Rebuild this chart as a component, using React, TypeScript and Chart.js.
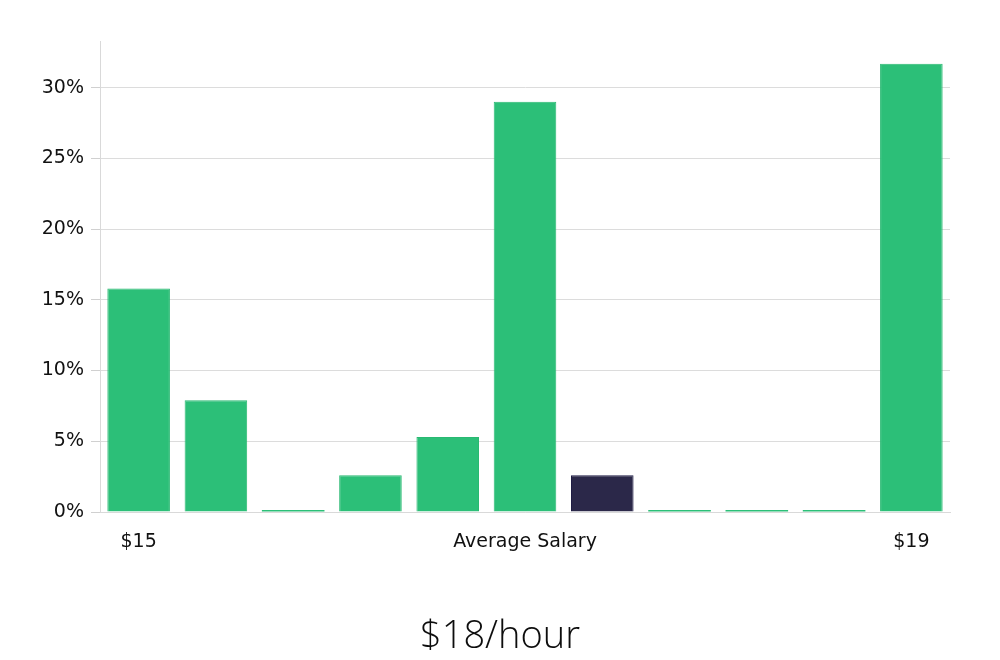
import React, { useEffect, useRef } from "react";
import { Chart, registerables } from "chart.js";

Chart.register(...registerables);

const categories = ["$15", "", "", "", "", "Average Salary", "", "", "", "", "$19"];
const shares = [15.8, 7.9, 0, 2.6, 5.3, 29.0, 2.6, 0, 0, 0, 31.7];
const highlightIndex = 6;
const yTicks = [0, 5, 10, 15, 20, 25, 30];
const titleText = "$18/hour";

const GREEN = "#2cbf78";
const GREEN_BORDER = "#29b972";
const DARK = "#2b2849";
const DARK_BORDER = "#1f1c45";

export default function App() {
  const ref = useRef<HTMLCanvasElement | null>(null);

  useEffect(() => {
    document.body.style.margin = "0";
    const ctx = ref.current!.getContext("2d")!;
    const chart = new Chart(ctx, {
      type: "bar",
      data: {
        labels: categories,
        datasets: [
          {
            data: shares,
            backgroundColor: shares.map((_, i) => (i === highlightIndex ? DARK : GREEN)),
            borderColor: shares.map((_, i) => (i === highlightIndex ? DARK_BORDER : GREEN_BORDER)),
            borderWidth: shares.map((v) => (v === 0 ? 0 : 1)),
            minBarLength: 2,
            barPercentage: 0.9,
            categoryPercentage: 0.9,
          },
        ],
      },
      options: {
        animation: false,
        responsive: false,
        maintainAspectRatio: false,
        layout: { padding: { top: 41, right: 50, left: 0, bottom: 0 } },
        plugins: {
          legend: { display: false },
          tooltip: { enabled: false },
          title: { display: false },
        },
        scales: {
          x: {
            grid: { display: false, drawTicks: false },
            border: { display: true, color: "#d9d9d9" },
            ticks: {
              autoSkip: false,
              maxRotation: 0,
              padding: 19,
              color: "#111111",
              font: { family: "DejaVu Sans", size: 19 },
            },
            afterFit: (s: any) => {
              s.height = 148;
            },
          },
          y: {
            min: 0,
            max: 33.3,
            grid: { color: "#dcdcdc", tickLength: 9, tickColor: "#d0d0d0" },
            border: { display: true, color: "#d9d9d9" },
            ticks: {
              stepSize: 5,
              padding: 7,
              color: "#111111",
              font: { family: "DejaVu Sans", size: 19 },
              callback: (v: any) => v + "%",
            },
            afterBuildTicks: (s: any) => {
              s.ticks = yTicks.map((v) => ({ value: v }));
            },
            afterFit: (s: any) => {
              s.width = 100;
            },
          },
        },
      },
    });
    return () => chart.destroy();
  }, []);

  return (
    <div style={{ position: "relative", width: 1000, height: 660 }}>
      <canvas ref={ref} width={1000} height={660} style={{ display: "block" }} />
      <div
        style={{
          position: "absolute",
          left: 0,
          width: 1000,
          top: 607,
          textAlign: "center",
          fontFamily: "'Open Sans', sans-serif",
          fontWeight: 300,
          fontSize: 38,
          lineHeight: "52px",
          color: "#0d0d0d",
        }}
      >
        {titleText}
      </div>
    </div>
  );
}
